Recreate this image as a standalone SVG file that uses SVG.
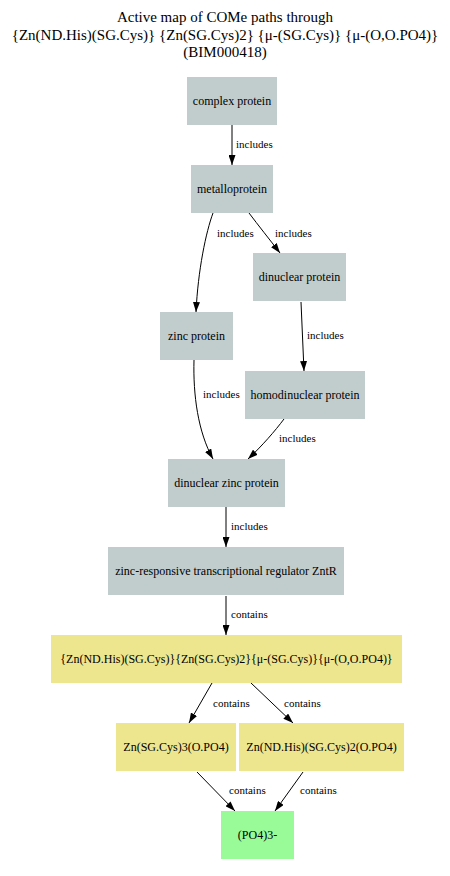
<svg xmlns="http://www.w3.org/2000/svg" width="450" height="876" viewBox="0 0 450 876">
  <style>
    text { font-family: "Liberation Serif", "Times New Roman", serif; fill: #000; }
    .title { font-size: 15px; text-anchor: middle; }
    .lbl { font-size: 12px; text-anchor: middle; }
    .elbl { font-size: 11px; }
    .protein rect { fill: #c1cdcd; }
    .site rect { fill: #eee68f; }
    .ligand rect { fill: #98fb98; }
    .edge { fill: none; stroke: #000; stroke-width: 1; marker-end: url(#arrow); }
  </style>
  <defs>
    <marker id="arrow" viewBox="0 0 10 7" refX="10" refY="3.5" markerWidth="10" markerHeight="7" markerUnits="userSpaceOnUse" orient="auto">
      <path d="M0,0 L10,3.5 L0,7 Z" fill="#000"/>
    </marker>
  </defs>
  <rect width="450" height="876" fill="#fff"/>

  <g id="title">
    <text class="title" x="225" y="22">Active map of COMe paths through</text>
    <text class="title" x="225" y="40">{Zn(ND.His)(SG.Cys)} {Zn(SG.Cys)2} {μ-(SG.Cys)} {μ-(O,O.PO4)}</text>
    <text class="title" x="225" y="57">(BIM000418)</text>
  </g>

  <g id="connectors">
    <path class="edge" d="M232,125 L232,165"/>
    <text class="elbl" x="236" y="148">includes</text>
    <path class="edge" d="M213,213 C206,232 198,270 196,312"/>
    <text class="elbl" x="217" y="237">includes</text>
    <path class="edge" d="M249,213 C258,225 270,240 280,253"/>
    <text class="elbl" x="275" y="237">includes</text>
    <path class="edge" d="M301,302 L304,371"/>
    <text class="elbl" x="307" y="339">includes</text>
    <path class="edge" d="M194,360 C193,395 198,432 213,459"/>
    <text class="elbl" x="203" y="398">includes</text>
    <path class="edge" d="M284,419 C275,431 262,446 248,459"/>
    <text class="elbl" x="279" y="442">includes</text>
    <path class="edge" d="M226,507 L226,547"/>
    <text class="elbl" x="231" y="530">includes</text>
    <path class="edge" d="M226,596 L226,635"/>
    <text class="elbl" x="231" y="618">contains</text>
    <path class="edge" d="M212,683 L189,723"/>
    <text class="elbl" x="213" y="707">contains</text>
    <path class="edge" d="M251,683 L293,723"/>
    <text class="elbl" x="284" y="707">contains</text>
    <path class="edge" d="M197,772 L235,811"/>
    <text class="elbl" x="229" y="794">contains</text>
    <path class="edge" d="M303,772 L275,811"/>
    <text class="elbl" x="300" y="794">contains</text>
  </g>

  <g id="complex-protein" class="protein">
    <rect x="187" y="77" width="90" height="48"/>
    <text class="lbl" x="232" y="105">complex protein</text>
  </g>
  <g id="metalloprotein" class="protein">
    <rect x="191" y="165" width="82" height="48"/>
    <text class="lbl" x="232" y="193">metalloprotein</text>
  </g>
  <g id="dinuclear-protein" class="protein">
    <rect x="253" y="253" width="93" height="48"/>
    <text class="lbl" x="299.5" y="281">dinuclear protein</text>
  </g>
  <g id="zinc-protein" class="protein">
    <rect x="160" y="312" width="73" height="48"/>
    <text class="lbl" x="196.5" y="340">zinc protein</text>
  </g>
  <g id="homodinuclear-protein" class="protein">
    <rect x="245" y="371" width="120" height="48"/>
    <text class="lbl" x="305" y="399">homodinuclear protein</text>
  </g>
  <g id="dinuclear-zinc-protein" class="protein">
    <rect x="168" y="459" width="117" height="48"/>
    <text class="lbl" x="226.5" y="487">dinuclear zinc protein</text>
  </g>
  <g id="zntr" class="protein">
    <rect x="108" y="547" width="236" height="48"/>
    <text class="lbl" x="226" y="575">zinc-responsive transcriptional regulator ZntR</text>
  </g>
  <g id="site" class="site">
    <rect x="51" y="635" width="351" height="48"/>
    <text class="lbl" x="226.5" y="663">{Zn(ND.His)(SG.Cys)}{Zn(SG.Cys)2}{μ-(SG.Cys)}{μ-(O,O.PO4)}</text>
  </g>
  <g id="zn-sgcys3" class="site">
    <rect x="116" y="723" width="120" height="48"/>
    <text class="lbl" x="176" y="751">Zn(SG.Cys)3(O.PO4)</text>
  </g>
  <g id="zn-ndhis-sgcys2" class="site">
    <rect x="239" y="723" width="165" height="48"/>
    <text class="lbl" x="321.5" y="751">Zn(ND.His)(SG.Cys)2(O.PO4)</text>
  </g>
  <g id="phosphate" class="ligand">
    <rect x="221" y="811" width="73" height="48"/>
    <text class="lbl" x="257.5" y="839">(PO4)3-</text>
  </g>
</svg>
